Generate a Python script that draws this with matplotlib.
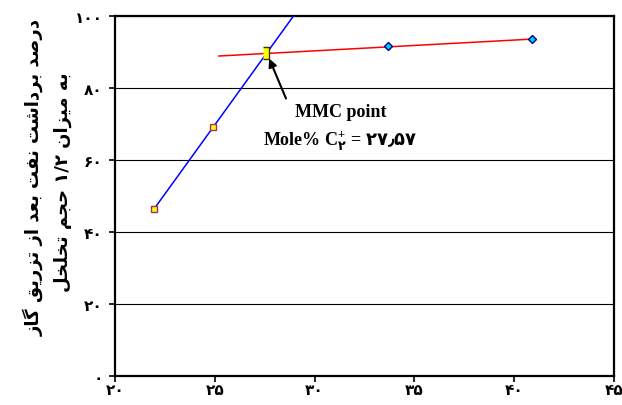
import matplotlib
matplotlib.use('Agg')
import matplotlib.pyplot as plt
from matplotlib.ticker import FixedLocator, FuncFormatter

# data
low_x = [21.95, 24.9]          # points below MMC (blue trend)
low_y = [46.4, 69.2]
high_x = [33.7, 40.9]          # points above MMC (red trend)
high_y = [91.7, 93.6]
blue_line_x = [21.95, 29.5]
blue_line_y = [46.4, 104.3]
red_line_x = [25.2, 40.9]
red_line_y = [88.9, 93.6]
mmc_x, mmc_y = 27.57, 89.7

x_ticks = [20, 25, 30, 35, 40, 45]
y_ticks = [0, 20, 40, 60, 80, 100]

ylabel_1 = 'درصد برداشت نفت بعد از تزریق گاز'
ylabel_2 = 'به میزان ۱/۲ حجم تخلخل'

FA = str.maketrans('0123456789', '۰۱۲۳۴۵۶۷۸۹')

# minimal Persian shaping (matplotlib has no complex text layout)
FORMS = {
    'ا': ('\uFE8D', '\uFE8E'), 'د': ('\uFEA9', '\uFEAA'), 'ر': ('\uFEAD', '\uFEAE'),
    'ز': ('\uFEAF', '\uFEB0'),
    'ب': ('\uFE8F', '\uFE90', '\uFE91', '\uFE92'), 'ت': ('\uFE95', '\uFE96', '\uFE97', '\uFE98'),
    'ج': ('\uFE9D', '\uFE9E', '\uFE9F', '\uFEA0'), 'ح': ('\uFEA1', '\uFEA2', '\uFEA3', '\uFEA4'),
    'خ': ('\uFEA5', '\uFEA6', '\uFEA7', '\uFEA8'), 'ش': ('\uFEB5', '\uFEB6', '\uFEB7', '\uFEB8'),
    'ص': ('\uFEB9', '\uFEBA', '\uFEBB', '\uFEBC'), 'ع': ('\uFEC9', '\uFECA', '\uFECB', '\uFECC'),
    'ف': ('\uFED1', '\uFED2', '\uFED3', '\uFED4'), 'ق': ('\uFED5', '\uFED6', '\uFED7', '\uFED8'),
    'ل': ('\uFEDD', '\uFEDE', '\uFEDF', '\uFEE0'), 'م': ('\uFEE1', '\uFEE2', '\uFEE3', '\uFEE4'),
    'ن': ('\uFEE5', '\uFEE6', '\uFEE7', '\uFEE8'), 'ه': ('\uFEE9', '\uFEEA', '\uFEEB', '\uFEEC'),
    'ی': ('\uFBFC', '\uFBFD', '\uFBFE', '\uFBFF'), 'گ': ('\uFB92', '\uFB93', '\uFB94', '\uFB95'),
}


def shape_word(w):
    out = []
    for i, c in enumerate(w):
        if c not in FORMS:
            out.append(c)
            continue
        prev_c = w[i - 1] if i > 0 else None
        next_c = w[i + 1] if i + 1 < len(w) else None
        j_prev = prev_c in FORMS and len(FORMS[prev_c]) == 4
        j_next = len(FORMS[c]) == 4 and next_c in FORMS
        f = FORMS[c]
        if j_prev and j_next:
            out.append(f[3])
        elif j_prev:
            out.append(f[1])
        elif j_next:
            out.append(f[2])
        else:
            out.append(f[0])
    return ''.join(out)


def rtl(s):
    words = []
    for w in s.split(' '):
        if any(c in FORMS for c in w):
            words.append(shape_word(w)[::-1])
        else:
            words.append(w)
    return ' '.join(reversed(words))


plt.rcParams['mathtext.fontset'] = 'custom'
plt.rcParams['mathtext.rm'] = 'Liberation Serif:bold'
plt.rcParams['mathtext.bf'] = 'Liberation Serif:bold'
plt.rcParams['mathtext.sf'] = 'DejaVu Sans:bold'

fig = plt.figure(figsize=(6.22, 4.06), dpi=100)
ax = fig.add_axes([0.185, 0.071, 0.802, 0.887])

ax.plot(blue_line_x, blue_line_y, color='#0000FF', lw=1.1, zorder=3)
ax.plot(red_line_x, red_line_y, color='#FF0000', lw=1.1, zorder=3)
ax.plot(low_x, low_y, ls='none', marker='s', ms=4.5, mfc='#FFFF00', mec='#993366', mew=1.0, zorder=4)
ax.plot(high_x, high_y, ls='none', marker='D', ms=4, mfc='#00CCFF', mec='#000080', mew=1.0, zorder=4)
ax.plot([mmc_x], [mmc_y], ls='none', marker=[(-0.5, -1), (0.5, -1), (0.5, 1), (-0.5, 1)],
        ms=9, mfc='#FFFF00', mec='#333300', mew=1.0, zorder=5)

ax.annotate('', xy=(mmc_x + 0.1, mmc_y - 0.8), xytext=(28.62, 76.4),
            arrowprops=dict(arrowstyle='-|>', color='black', lw=1.5, mutation_scale=12))
ax.text(31.3, 73.6, 'MMC point', ha='center', va='center', family='Liberation Serif',
        weight='bold', fontsize=13)
ax.text(31.3, 65.6, r'Mole% C$_{\mathsf{۲}}^{+}$ = $\mathsf{۲۷٫۵۷}$', ha='center', va='center',
        family='Liberation Serif', weight='bold', fontsize=13)

ax.set_xlim(20, 45)
ax.set_ylim(0, 100)
ax.xaxis.set_major_locator(FixedLocator(x_ticks))
ax.yaxis.set_major_locator(FixedLocator(y_ticks))
fmt = FuncFormatter(lambda v, p: str(int(v)).translate(FA))
ax.xaxis.set_major_formatter(fmt)
ax.yaxis.set_major_formatter(fmt)
ax.tick_params(direction='out', length=4, width=1.2, labelsize=11)
ax.tick_params(axis='y', pad=5)
ax.tick_params(axis='x', pad=0)
for lab in ax.get_xticklabels() + ax.get_yticklabels():
    lab.set_fontweight('bold')
    lab.set_family('DejaVu Sans')

ax.grid(axis='y', color='black', lw=0.8)
ax.set_axisbelow(True)
for sp in ax.spines.values():
    sp.set_linewidth(1.6)
    sp.set_color('black')

fig.text(33 / 622, 1 - 178 / 406, rtl(ylabel_1), rotation=90, ha='center', va='center',
         family='DejaVu Sans', weight='bold', fontsize=13)
fig.text(63 / 622, 1 - 182 / 406, rtl(ylabel_2), rotation=90, ha='center', va='center',
         family='DejaVu Sans', weight='bold', fontsize=13)

fig.savefig('out.png', dpi=100)
